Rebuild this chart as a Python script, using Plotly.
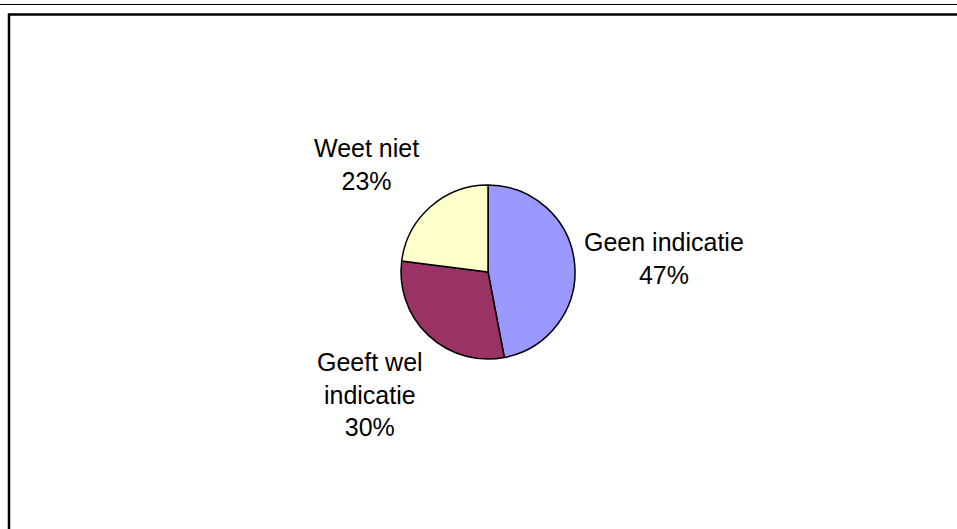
import plotly.graph_objects as go

# Data
categories = ["Geen indicatie", "Geeft wel indicatie", "Weet niet"]
values = [47, 30, 23]
label_lines = ["Geen indicatie", "Geeft wel<br>indicatie", "Weet niet"]
colors = ["#9999FF", "#993366", "#FFFFCC"]

W, H = 957, 529

# label placement (pixel centres in the canvas)
label_pos = [(664, 258), (370, 394), (366, 164)]

fig = go.Figure()
fig.add_trace(go.Pie(
    labels=categories,
    values=values,
    sort=False,
    direction="clockwise",
    rotation=0,
    marker=dict(colors=colors, line=dict(color="black", width=1.5)),
    textinfo="none",
    hoverinfo="label+percent",
    showlegend=False,
    domain=dict(x=[(488 - 87) / W, (488 + 87) / W],
                y=[(H - 272 - 87) / H, (H - 272 + 87) / H]),
))

total = sum(values)
for lab, v, (px, py) in zip(label_lines, values, label_pos):
    fig.add_annotation(
        x=px / W, y=1 - py / H, xref="paper", yref="paper",
        text=f"{lab}<br>{round(100 * v / total)}%",
        showarrow=False, xanchor="center", yanchor="middle", align="center",
        font=dict(family="Arial, Liberation Sans, sans-serif", size=25, color="black"),
    )

# thin line at top and the chart-area frame
fig.add_shape(type="line", xref="paper", yref="paper",
              x0=0, x1=1, y0=1 - 4.5 / H, y1=1 - 4.5 / H,
              line=dict(color="black", width=1))
fig.add_shape(type="rect", xref="paper", yref="paper",
              x0=9 / W, x1=1.05, y0=-0.05, y1=1 - 14.5 / H,
              line=dict(color="black", width=2.5))

fig.update_layout(
    width=W, height=H,
    margin=dict(l=0, r=0, t=0, b=0),
    paper_bgcolor="white", plot_bgcolor="white",
)

fig.write_html(
    "out.html",
    config={"displayModeBar": False},
    post_script="document.body.style.margin='0';document.body.style.overflow='hidden';",
)
